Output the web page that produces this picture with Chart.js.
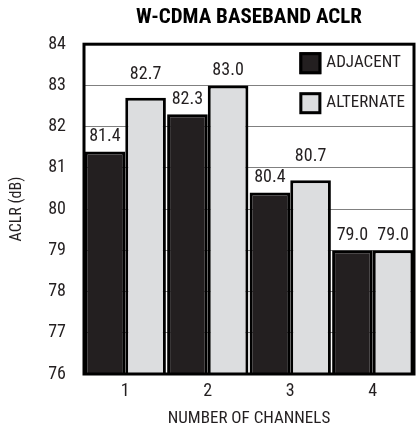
<!DOCTYPE html>
<html><head><meta charset="utf-8">
<script src="https://cdn.jsdelivr.net/npm/chart.js@4"></script>
<style>html,body{margin:0;padding:0;background:#fff}</style>
</head><body>
<canvas id="c" width="417" height="431" style="width:417px;height:431px;display:block"></canvas>
<script>
const categories = ['1', '2', '3', '4'];
const seriesNames = ['ADJACENT', 'ALTERNATE'];
const adjacent = [81.4, 82.3, 80.4, 79.0];
const alternate = [82.7, 83.0, 80.7, 79.0];
const yMin = 76, yMax = 84, yStep = 1;

const FONT = '"Liberation Sans Narrow","Arial Narrow","Roboto Condensed","DejaVu Sans Condensed",sans-serif';
const INK = '#231f20';
const COLORS = ['#231f20', '#dcdddf'];

const framePlugin = {
  id: 'frame',
  afterDatasetsDraw(chart) {
    const {ctx, chartArea: a, scales: {y}} = chart;
    ctx.save();
    const grids = [];
    for (let v = yMin + yStep; v < yMax; v += yStep) grids.push(y.getPixelForValue(v));
    ctx.font = '18px ' + FONT;
    ctx.fillStyle = INK;
    ctx.textAlign = 'center';
    ctx.textBaseline = 'middle';
    chart.data.datasets.forEach((ds, di) => {
      chart.getDatasetMeta(di).data.forEach((bar, i) => {
        let cy = bar.y - 15;
        for (const g of grids) if (Math.abs(g - cy) < 9) cy = g - 11;
        ctx.fillText(ds.data[i].toFixed(1), bar.x, cy);
      });
    });
    ctx.lineWidth = 3;
    ctx.strokeStyle = '#000';
    ctx.strokeRect(a.left, a.top, a.right - a.left, a.bottom - a.top);
    ctx.font = '17px ' + FONT;
    ctx.textAlign = 'left';
    const widths = chart.data.datasets.map(ds => ctx.measureText(ds.label).width);
    const maxW = Math.max(...widths);
    const bx = a.right - 9 - maxW - 27;
    chart.data.datasets.forEach((ds, di) => {
      const by = a.top + 8 + di * 40;
      ctx.fillStyle = ds.backgroundColor;
      ctx.fillRect(bx, by, 22, 22);
      ctx.lineWidth = 3;
      ctx.strokeStyle = '#000';
      ctx.strokeRect(bx + 1.5, by + 1.5, 19, 19);
      ctx.fillStyle = INK;
      ctx.fillText(ds.label, bx + 27, by + 11);
    });
    ctx.restore();
  }
};

new Chart(document.getElementById('c'), {
  type: 'bar',
  data: {
    labels: categories,
    datasets: [
      {label: seriesNames[0], data: adjacent, backgroundColor: COLORS[0], borderColor: '#000', borderWidth: 3, borderSkipped: false},
      {label: seriesNames[1], data: alternate, backgroundColor: COLORS[1], borderColor: '#000', borderWidth: 3, borderSkipped: false}
    ]
  },
  options: {
    responsive: false,
    devicePixelRatio: 1,
    animation: false,
    layout: {padding: {left: 0, right: 3, top: 0, bottom: 0}},
    datasets: {bar: {barPercentage: 1, categoryPercentage: 0.985}},
    plugins: {
      legend: {display: false},
      tooltip: {enabled: false},
      title: {
        display: true,
        fullSize: false,
        text: 'W-CDMA BASEBAND ACLR',
        color: '#000',
        font: {family: FONT, size: 21, weight: 'bold', lineHeight: 1.2},
        padding: {top: 5, bottom: 14}
      }
    },
    scales: {
      x: {
        grid: {display: false, drawTicks: false},
        border: {display: false},
        ticks: {color: INK, font: {family: FONT, size: 18}, padding: 7},
        title: {display: true, text: 'NUMBER OF CHANNELS', color: INK, font: {family: FONT, size: 17}, padding: {top: 0, bottom: 2}},
        afterFit(s) { s.height = 57; }
      },
      y: {
        min: yMin, max: yMax,
        grid: {color: '#808080', lineWidth: 1, drawTicks: false},
        border: {display: false},
        ticks: {stepSize: yStep, color: INK, font: {family: FONT, size: 18}, padding: 18},
        title: {display: true, text: 'ACLR (dB)', color: INK, font: {family: FONT, size: 16}, padding: {top: 7, bottom: 0}},
        afterFit(s) { s.width = 84; }
      }
    }
  },
  plugins: [framePlugin]
});
</script>
</body></html>
